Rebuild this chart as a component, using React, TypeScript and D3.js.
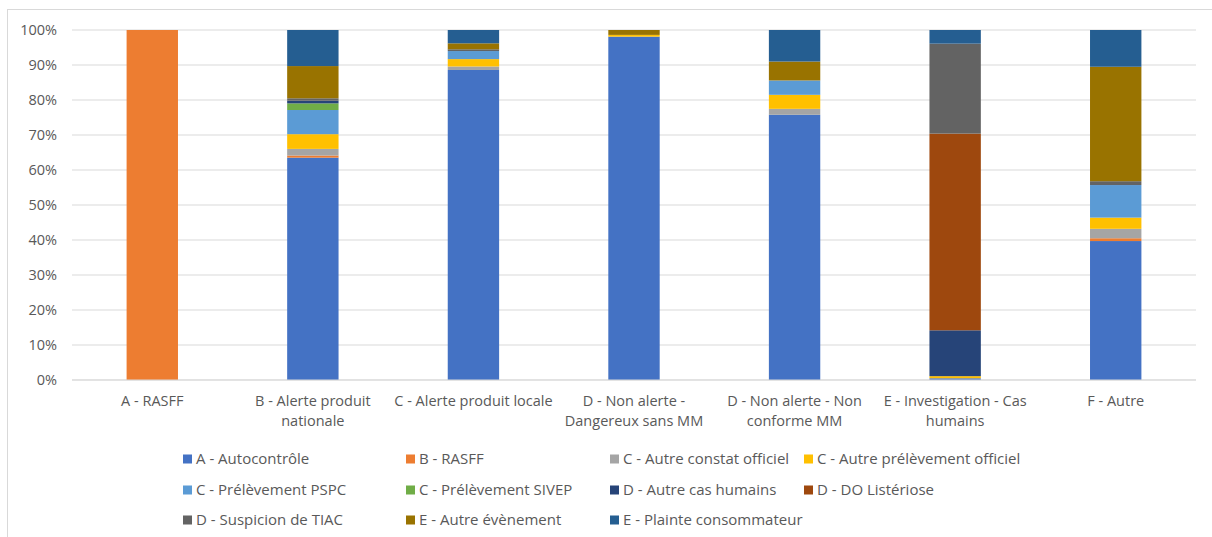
import { scaleBand, scaleLinear, stack, stackOffsetExpand } from 'd3'

const categories = [
  'A - RASFF',
  'B - Alerte produit nationale',
  'C - Alerte produit locale',
  'D - Non alerte - Dangereux sans MM',
  'D - Non alerte - Non conforme MM',
  'E - Investigation - Cas humains',
  'F - Autre',
]

// the wrapped lines of each category label, as in the picture
const categoryLines = [
  ['A - RASFF'],
  ['B - Alerte produit', 'nationale'],
  ['C - Alerte produit locale'],
  ['D - Non alerte -', 'Dangereux sans MM'],
  ['D - Non alerte - Non', 'conforme MM'],
  ['E - Investigation - Cas', 'humains'],
  ['F - Autre'],
]

const seriesNames = [
  'A - Autocontrôle',
  'B - RASFF',
  'C - Autre constat officiel',
  'C - Autre prélèvement officiel',
  'C - Prélèvement PSPC',
  'C - Prélèvement SIVEP',
  'D - Autre cas humains',
  'D - DO Listériose',
  'D - Suspicion de TIAC',
  'E - Autre évènement',
  'E - Plainte consommateur',
]

const autocontrole = [0, 63.5, 88.4, 98.1, 75.7, 0.5, 39.7]
const rasff = [100, 0.6, 0, 0, 0, 0, 0.8]
const autreConstat = [0, 1.9, 1.0, 0, 1.7, 0, 2.7]
const autrePrelevement = [0, 4.2, 2.1, 0.5, 4.0, 0.6, 3.2]
const prelevementPspc = [0, 6.9, 2.3, 0, 4.1, 0, 9.3]
const prelevementSivep = [0, 1.9, 0, 0, 0, 0, 0]
const autreCasHumains = [0, 0.75, 0, 0, 0, 13.1, 0]
const doListeriose = [0, 0, 0, 0, 0, 56.2, 0]
const suspicionTiac = [0, 0.7, 0.5, 0, 0, 25.7, 1.1]
const autreEvenement = [0, 9.2, 1.7, 1.4, 5.4, 0, 32.7]
const plainteConsommateur = [0, 10.3, 3.8, 0, 9.0, 3.9, 10.5]

const seriesValues = [
  autocontrole,
  rasff,
  autreConstat,
  autrePrelevement,
  prelevementPspc,
  prelevementSivep,
  autreCasHumains,
  doListeriose,
  suspicionTiac,
  autreEvenement,
  plainteConsommateur,
]

const yTicks = [0, 0.1, 0.2, 0.3, 0.4, 0.5, 0.6, 0.7, 0.8, 0.9, 1]

const colors = [
  '#4472C4',
  '#ED7D31',
  '#A5A5A5',
  '#FFC000',
  '#5B9BD5',
  '#70AD47',
  '#264478',
  '#9E480E',
  '#636363',
  '#997300',
  '#255E91',
]

const width = 1212
const height = 537

const plot = { left: 72, right: 1196, top: 30, bottom: 380 }

const legendColumns = [183, 406, 610, 804]
const legendRows = [459, 490, 520]

const font = '"Open Sans", "Liberation Sans", sans-serif'

type Row = { category: string; [key: string]: number | string }

function App() {
  const rows: Row[] = categories.map((category, i) => {
    const row: Row = { category }
    seriesNames.forEach((name, s) => {
      row[name] = seriesValues[s][i]
    })
    return row
  })

  const stacked = stack<Row>()
    .keys(seriesNames)
    .value((row, key) => row[key] as number)
    .offset(stackOffsetExpand)(rows)

  const xScale = scaleBand<string>()
    .domain(categories)
    .range([plot.left, plot.right])
    .paddingInner(0.68)
    .paddingOuter(0.34)

  const yScale = scaleLinear().domain([0, 1]).range([plot.bottom, plot.top])

  return (
    <svg
      width={width}
      height={height}
      viewBox={`0 0 ${width} ${height}`}
      style={{ position: 'absolute', left: 0, top: 0, background: '#fff' }}
    >
      <rect x={7.5} y={9.5} width={1220} height={560} fill="#fff" stroke="#D9D9D9" />

      {yTicks.map((tick) => (
        <line
          key={`grid-${tick}`}
          x1={plot.left}
          x2={plot.right}
          y1={yScale(tick)}
          y2={yScale(tick)}
          stroke="#D9D9D9"
          strokeWidth={1}
        />
      ))}

      {yTicks.map((tick) => (
        <text
          key={`ylabel-${tick}`}
          x={57}
          y={yScale(tick)}
          dy="0.35em"
          textAnchor="end"
          fontFamily={font}
          fontSize={14.5}
          fill="#595959"
        >
          {`${Math.round(tick * 100)}%`}
        </text>
      ))}

      {stacked.map((series, s) => (
        <g key={series.key} fill={colors[s]}>
          {series.map((d, i) => {
            const h = yScale(d[0]) - yScale(d[1])
            if (h <= 0) return null
            return (
              <rect
                key={`${series.key}-${i}`}
                x={xScale(categories[i])}
                y={yScale(d[1])}
                width={xScale.bandwidth()}
                height={h}
              />
            )
          })}
        </g>
      ))}

      <line
        x1={plot.left}
        x2={plot.right}
        y1={plot.bottom}
        y2={plot.bottom}
        stroke="#D9D9D9"
      />

      {categories.map((category, i) => {
        const cx = (xScale(category) ?? 0) + xScale.bandwidth() / 2
        return (
          <text
            key={`xlabel-${category}`}
            x={cx}
            y={406}
            textAnchor="middle"
            fontFamily={font}
            fontSize={14.5}
            fill="#595959"
          >
            {categoryLines[i].map((lineText, l) => (
              <tspan key={lineText} x={cx} dy={l === 0 ? 0 : 20}>
                {lineText}
              </tspan>
            ))}
          </text>
        )
      })}

      {seriesNames.map((name, s) => {
        const x = legendColumns[s % 4]
        const y = legendRows[Math.floor(s / 4)]
        return (
          <g key={`legend-${name}`}>
            <rect x={x} y={y - 4.5} width={9} height={9} fill={colors[s]} />
            <text
              x={x + 13}
              y={y}
              dy="0.35em"
              fontFamily={font}
              fontSize={15}
              fill="#595959"
            >
              {name}
            </text>
          </g>
        )
      })}
    </svg>
  )
}

export default App
